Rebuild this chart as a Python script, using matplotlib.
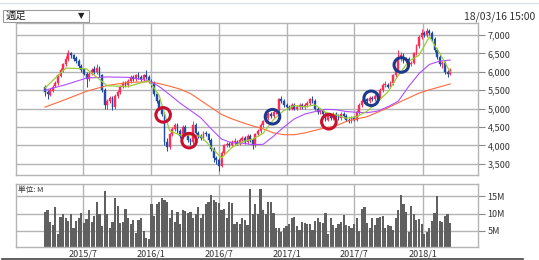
import matplotlib
matplotlib.use("Agg")
import matplotlib.pyplot as plt
import matplotlib.dates as mdates
from matplotlib.lines import Line2D
from matplotlib.patches import Rectangle
import numpy as np
import pandas as pd

plt.rcParams['font.family'] = ['Noto Sans CJK JP', 'DejaVu Sans']

# ---------------- data ----------------
closes = [5450, 5400, 5500, 5600, 5700, 5900, 6050, 6200, 6350, 6500,
          6450, 6350, 6300, 6150, 6050, 5950, 5800, 5950, 6050, 6000,
          6100, 5900, 5500, 5100, 5200, 5300, 5050, 5350, 5450, 5600,
          5700, 5650, 5750, 5850, 5800, 5900, 5850, 5800, 5900, 5850,
          5750, 5700, 5400, 5200, 5000, 4850, 4100, 3950, 4300, 4450,
          4550, 4400, 4250, 4500, 4300, 4150, 4100, 4550, 4350, 4250,
          4200, 4350, 4300, 4150, 3900, 3650, 3600, 3450, 3800, 4000,
          4050, 4000, 4100, 4100, 4050, 4150, 4200, 4100, 4250, 4150,
          4000, 4300, 4400, 4550, 4650, 4750, 4850, 4800, 4900, 4950,
          5250, 5200, 5100, 5050, 5000, 5100, 5000, 5050, 5100, 5050,
          5100, 5150, 5250, 5200, 5000, 4900, 4950, 4850, 4700, 4800,
          4750, 4850, 4800, 4750, 4850, 4800, 4700, 4650, 4750, 4700,
          4900, 5100, 5200, 5250, 5200, 5300, 5250, 5350, 5300, 5500,
          5650, 5650, 5600, 5700, 5900, 6050, 6400, 6450, 6300, 6350,
          6200, 6250, 6500, 6700, 6950, 7050, 7000, 7100, 7050, 6900,
          6600, 6400, 6200, 6250, 6000, 5950, 6050]
opens = [5600, 5450, 5380, 5480, 5620, 5700, 5880, 6050, 6200, 6350,
         6500, 6450, 6380, 6300, 6150, 6080, 5950, 5800, 5950, 6080,
         6000, 6100, 5900, 5500, 5100, 5200, 5300, 5050, 5350, 5450,
         5600, 5700, 5650, 5750, 5850, 5800, 5900, 5850, 5800, 5900,
         5850, 5750, 5700, 5400, 5200, 5000, 4850, 4100, 3950, 4300,
         4450, 4550, 4400, 4250, 4500, 4300, 4150, 4100, 4550, 4350,
         4250, 4200, 4350, 4300, 4150, 3900, 3650, 3600, 3450, 3800,
         4000, 4050, 4000, 4100, 4100, 4050, 4150, 4200, 4100, 4250,
         4150, 4000, 4300, 4400, 4550, 4650, 4750, 4850, 4800, 4900,
         4950, 5250, 5200, 5100, 5050, 5000, 5100, 5000, 5050, 5100,
         5050, 5100, 5150, 5250, 5200, 5000, 4900, 4950, 4850, 4700,
         4800, 4750, 4850, 4800, 4750, 4850, 4800, 4700, 4650, 4750,
         4700, 4900, 5100, 5200, 5250, 5200, 5300, 5250, 5350, 5300,
         5500, 5650, 5650, 5600, 5700, 5900, 6050, 6400, 6450, 6300,
         6350, 6200, 6250, 6500, 6700, 6950, 7050, 7000, 7100, 7050,
         6900, 6600, 6400, 6200, 6250, 6000, 5950]
highs = [5650, 5500, 5550, 5650, 5750, 5950, 6100, 6250, 6420, 6600,
         6550, 6480, 6420, 6350, 6200, 6100, 6000, 6000, 6100, 6150,
         6200, 6150, 5950, 5550, 5250, 5350, 5350, 5400, 5500, 5650,
         5750, 5750, 5800, 5900, 5900, 5950, 6000, 5900, 5950, 6050,
         5900, 5800, 5750, 5450, 5250, 5050, 4900, 4200, 4350, 4500,
         4600, 4600, 4450, 4550, 4550, 4350, 4200, 4650, 4600, 4400,
         4300, 4400, 4400, 4350, 4200, 3950, 3700, 3650, 3850, 4050,
         4100, 4100, 4150, 4200, 4150, 4200, 4250, 4250, 4300, 4300,
         4200, 4350, 4450, 4600, 4700, 4800, 4900, 4900, 4950, 5000,
         5300, 5350, 5250, 5150, 5100, 5150, 5150, 5100, 5150, 5150,
         5150, 5200, 5300, 5350, 5250, 5050, 5000, 5000, 4900, 4850,
         4850, 4900, 4900, 4850, 4900, 4900, 4850, 4750, 4800, 4800,
         4950, 5150, 5250, 5350, 5300, 5350, 5350, 5400, 5400, 5550,
         5700, 5750, 5700, 5750, 5950, 6100, 6600, 6550, 6500, 6400,
         6400, 6300, 6550, 6750, 7000, 7150, 7100, 7200, 7150, 7100,
         6950, 6650, 6450, 6300, 6300, 6050, 6100]
lows = [5350, 5250, 5350, 5450, 5580, 5650, 5850, 6000, 6150, 6300,
        6380, 6300, 6250, 6100, 6000, 5900, 5600, 5750, 5900, 5950,
        5950, 5850, 5450, 5000, 5000, 5150, 4950, 5000, 5300, 5400,
        5550, 5600, 5600, 5700, 5750, 5750, 5800, 5750, 5750, 5800,
        5700, 5600, 5350, 5150, 4950, 4800, 4000, 3850, 3900, 4250,
        4400, 4350, 4200, 4200, 4250, 4100, 4000, 4050, 4300, 4200,
        4150, 4150, 4250, 4100, 3850, 3550, 3500, 3300, 3400, 3750,
        3950, 3950, 3950, 4000, 4000, 4000, 4100, 4050, 4050, 4100,
        3900, 3950, 4250, 4350, 4500, 4600, 4700, 4750, 4750, 4850,
        4900, 5150, 5050, 5000, 4950, 4950, 4950, 4950, 5000, 5000,
        5000, 5050, 5100, 5150, 4950, 4850, 4850, 4800, 4650, 4650,
        4700, 4700, 4750, 4700, 4700, 4750, 4650, 4600, 4600, 4650,
        4650, 4850, 5050, 5150, 5150, 5150, 5200, 5200, 5250, 5250,
        5450, 5600, 5550, 5550, 5650, 5850, 6000, 6300, 6250, 6250,
        6150, 6150, 6200, 6450, 6650, 6900, 6950, 6950, 7000, 6850,
        6550, 6350, 6150, 6100, 5950, 5850, 5900]
volumes = [10.5, 11, 7.7, 6.7, 11.8, 4.2, 8.9, 10, 8.8, 7.8,
           10, 5.8, 7.8, 8.8, 10.3, 7.4, 8.4, 11, 7.6, 9.4,
           13.4, 10, 6.3, 16.5, 10, 6, 7.6, 14.6, 12.3, 7.4,
           7.7, 11.2, 8.6, 7.1, 8.1, 4.5, 8.1, 8.7, 5, 3,
           2.6, 12.8, 9.4, 12.8, 13.4, 14.5, 14, 13.2, 8.8, 11,
           7.7, 10.5, 6.9, 11, 10.8, 10.2, 10.5, 8.8, 10, 11.8,
           8.8, 10, 12.7, 13.4, 15.3, 14, 13.4, 12.9, 11, 11.4,
           8.6, 13.2, 12.9, 7.1, 7.6, 6.9, 8.6, 8.1, 6.7, 17.2,
           10, 12.8, 10, 17.2, 11,
           10, 13.4, 13.2, 10.3, 6, 5.8, 4.8, 5.8, 6.3, 7.1,
           8.8, 9.1, 6.3, 5.2, 7.6, 7.4, 7.1, 6.9, 5.2, 7.9,
           8.8, 7.6, 7.4, 10.3, 4.2, 8.8, 6.7, 5.8, 7.1, 7.6,
           9.7, 6.7, 6.3, 5.9, 7.1, 8.6, 5.0, 11.2, 11.8, 7.4,
           6, 8.8, 6.7, 8.6, 9.1, 9.4, 5.9, 6.7, 6.3, 5.2,
           8.6, 11, 15.3, 12.7, 10.5, 4.8, 12.3, 10, 8.1, 8.4,
           7.1, 4.2, 4.8, 6, 7.9, 10.3, 15, 7.9, 7.6, 9.2,
           10, 7.4]

# moving averages read at sample weeks
ma_weeks = [0, 8, 16, 24, 32, 40, 44, 48, 52, 56, 60, 64, 68, 72, 76, 80, 84,
            88, 92, 96, 100, 104, 108, 112, 116, 120, 124, 128, 132, 136, 140,
            144, 148, 152, 156]
ma_short = [5560, 6100, 6080, 5620, 5600, 5760, 5350, 4400, 4280, 4280, 4250,
            3950, 3660, 3950, 4100, 4170, 4330, 4700, 4950, 5080, 5050, 5100,
            4900, 4830, 4740, 4780, 4930, 5180, 5450, 5900, 6280, 6450, 6950,
            6500, 6000]
ma_mid = [5500, 5650, 5830, 5860, 5850, 5760, 5600, 5380, 5150, 4950, 4750,
          4450, 4170, 4070, 4060, 4020, 4030, 4250, 4500, 4720, 4850, 4920,
          4980, 4970, 4920, 4900, 4890, 4930, 5050, 5200, 5600, 5950, 6200,
          6290, 6320]
ma_long = [5040, 5250, 5470, 5630, 5710, 5730, 5680, 5610, 5530, 5410, 5220,
           5030, 4840, 4720, 4620, 4530, 4450, 4340, 4290, 4290, 4340, 4410,
           4480, 4530, 4650, 4720, 4780, 4900, 5020, 5160, 5290, 5420, 5510,
           5590, 5670]

# marked signals (week index, price)
red_marks_w = [45.5, 55.5, 109.3]
red_marks_p = [4830, 4130, 4644]
blue_marks_w = [87.6, 125.6, 137.2]
blue_marks_p = [4780, 5280, 6185]

price_ticks = [3500, 4000, 4500, 5000, 5500, 6000, 6500, 7000]
vol_ticks = [5, 10, 15]
x_tick_dates = ["2015-07-01", "2016-01-01", "2016-07-01", "2017-01-01",
                "2017-07-01", "2018-01-01"]
x_tick_labels = ["2015/7", "2016/1", "2016/7", "2017/1", "2017/7", "2018/1"]

# ---------------- figure ----------------
W, H = 539, 260
fig = plt.figure(figsize=(W / 100, H / 100), dpi=100)

def fx(px):
    return px / W

def fy(py):
    return 1 - py / H

ax = fig.add_axes([fx(16), fy(175), fx(478) - fx(16), fy(23) - fy(175)])
axv = fig.add_axes([fx(16), fy(247), fx(478) - fx(16), fy(184) - fy(247)])

dates = pd.date_range(end="2018-03-16", periods=len(closes), freq="7D")
xd = mdates.date2num(dates.to_pydatetime())
week_days = 7.0

def wk2x(w):
    return xd[0] + np.asarray(w, dtype=float) * week_days

xmin = mdates.date2num(pd.Timestamp("2015-01-01"))
xmax = mdates.date2num(pd.Timestamp("2018-05-30"))

grid_c = "#b4b4b4"
up_c = "#ff2d55"
dn_c = "#1f4aa8"

for a in (ax, axv):
    a.set_xlim(xmin, xmax)
    for s in a.spines.values():
        s.set_color(grid_c)
        s.set_linewidth(1.0)
    a.yaxis.tick_right()
    a.tick_params(axis="y", colors="#888888", length=5, width=0.8,
                  labelsize=6.5, labelcolor="#333333", pad=2)
    a.tick_params(axis="x", length=0)
    tick_x = [mdates.date2num(pd.Timestamp(d)) for d in x_tick_dates]
    a.set_xticks(tick_x)
    for t in tick_x:
        a.axvline(t, color=grid_c, lw=1.0, zorder=0)

ax.set_xticklabels([])
axv.set_xticklabels(x_tick_labels, fontsize=6.5, color="#333333")
axv.tick_params(axis="x", pad=2)

# price panel
ax.set_ylim(3196, 7326)
ax.set_yticks(price_ticks)
ax.set_yticklabels([f"{v:,}" for v in price_ticks])
for v in price_ticks:
    ax.axhline(v, color=grid_c, lw=1.0, zorder=0)

body_w = 4.8
for i in range(len(closes)):
    o, h, l, c = opens[i], highs[i], lows[i], closes[i]
    col = up_c if c >= o else dn_c
    ax.vlines(xd[i], l, h, color=col, lw=0.7, zorder=2)
    bot = min(o, c)
    hgt = max(abs(c - o), 15)
    ax.add_patch(Rectangle((xd[i] - body_w / 2, bot), body_w, hgt,
                           facecolor=col, edgecolor=col, lw=0.3, zorder=3))

ax.plot(wk2x(ma_weeks), ma_long, color="#ff6a3d", lw=0.8, zorder=4)
ax.plot(wk2x(ma_weeks), ma_mid, color="#b04cff", lw=0.8, zorder=4)
ax.plot(wk2x(ma_weeks), ma_short, color="#9acd32", lw=0.9, zorder=4)

ax.scatter(wk2x(red_marks_w), red_marks_p, s=110, facecolors="none",
           edgecolors="#c8102e", linewidths=2.2, zorder=6)
ax.scatter(wk2x(blue_marks_w), blue_marks_p, s=110, facecolors="none",
           edgecolors="#1c3a8c", linewidths=2.2, zorder=6)

# volume panel
axv.set_ylim(0.4, 18.5)
axv.set_yticks(vol_ticks)
axv.set_yticklabels([f"{v}M" for v in vol_ticks])
for v in vol_ticks:
    axv.axhline(v, color=grid_c, lw=1.0, zorder=0)
axv.bar(xd, volumes, width=5.9, color="#606060", zorder=2)
axv.text(0.005, 0.97, "単位: M", transform=axv.transAxes, fontsize=5.5,
         va="top", ha="left", color="#333333")

# header decorations
fig.add_artist(Line2D([0, 1], [fy(3), fy(3)], color="#dde3ea", lw=1.0))
fig.add_artist(Rectangle((fx(3), fy(22)), fx(89) - fx(3), fy(10) - fy(22),
                         transform=fig.transFigure, facecolor="white",
                         edgecolor="#999999", lw=0.8))
fig.text(fx(6), fy(16), "週足", fontsize=7.5, va="center", ha="left",
         color="#222222")
fig.text(fx(81), fy(16), "▼", fontsize=6, va="center", ha="center",
         color="#222222", family=["DejaVu Sans"])
fig.text(fx(535), fy(17), "18/03/16 15:00", fontsize=7.5, va="center",
         ha="right", color="#333333")
fig.add_artist(Line2D([fx(2), fx(523)], [fy(259), fy(259)],
                      color="#444444", lw=1.2))

fig.savefig("out.png", dpi=100)
